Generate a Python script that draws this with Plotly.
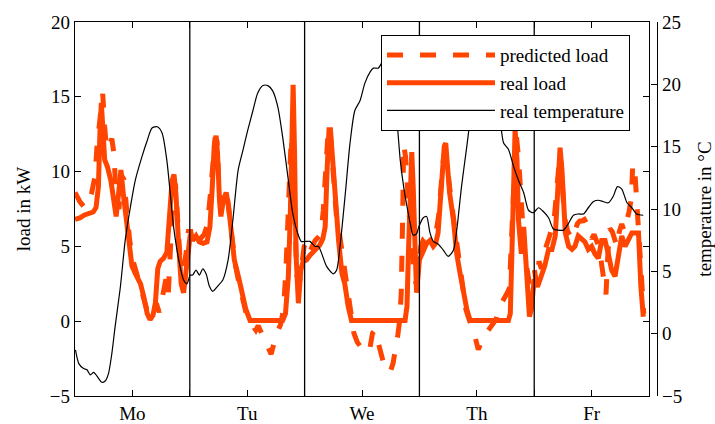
import plotly.graph_objects as go

# ---------------- data (hours since Monday 00:00) ----------------
day_labels = ["Mo", "Tu", "We", "Th", "Fr"]

real_hours = [0, 1, 2, 3, 3.8, 4.4, 4.9, 5.2, 5.5, 5.8, 6.2, 6.8, 7.5, 8.1, 8.6, 9.2, 9.6, 10.1, 10.6, 11.2,
              11.9, 12.6, 13.7, 14.4, 15.1, 15.7, 16.3, 16.8, 17.3, 17.8, 18.5, 19.2, 19.8, 20.3, 20.7, 21.1,
              21.6, 22.2, 22.7, 23.2, 23.7, 24.1,
              24.6, 25.3, 26.0, 26.8, 27.6, 28.2, 28.7, 29.1, 29.5, 29.8, 30.2, 30.5, 31.0, 31.6, 32.1, 32.6,
              33.3, 34.3, 35.0, 35.7, 36.6, 43.4, 44.0, 44.6, 45.0, 45.3, 45.6, 45.9, 46.2, 46.7, 47.2, 47.7,
              48.4, 49.1, 49.8, 50.5, 51.2, 51.8, 52.3, 52.7, 53.1, 53.4, 53.8, 54.4, 55.1, 55.8, 56.4, 57.1,
              57.8, 69.0, 69.4, 69.7, 70.0, 70.4, 70.7, 71.0, 71.4,
              72.0, 72.8, 73.5, 74.2, 74.9, 75.4, 75.9, 76.3, 76.8, 77.2, 77.5, 77.8, 78.3, 79.1, 79.8, 80.5,
              81.2, 81.9, 82.6, 90.6, 91.0, 91.3, 91.7, 92.0, 92.4, 92.7, 93.3, 93.8, 94.5, 95.0,
              95.4, 96.0, 96.7, 97.4, 98.2, 99.0, 99.7, 100.4, 100.7, 101.1, 101.4, 101.8, 102.1, 102.5, 103.2,
              103.9, 104.5, 105.2, 105.9, 106.6, 107.3, 108.0, 108.7, 109.4, 110.1, 110.8, 111.5, 112.2, 112.9,
              113.6, 114.3, 115.0, 115.7, 116.4, 117.1, 117.8, 118.3, 118.8]
real_kw = [6.8, 6.9, 7.1, 7.2, 7.3, 7.6, 9.0, 12.5, 14.6, 13.0, 10.8, 10.3, 9.4, 8.1, 7.0, 8.8, 10.1, 8.5, 7.2, 5.9,
           3.7, 3.2, 2.5, 1.6, 0.5, 0.1, 0.4, 1.2, 3.5, 4.0, 4.2, 4.6, 7.0, 9.4, 9.8, 8.5,
           5.5, 2.5, 1.9, 3.5, 5.0, 5.8,
           5.4, 5.7, 5.3, 5.2, 5.3, 6.3, 9.0, 11.7, 12.4, 11.2, 8.1, 7.0, 8.1, 8.6, 7.7, 5.9,
           4.1, 2.8, 1.6, 0.8, 0.05, 0.05, 0.5, 3.0, 7.0, 12.0, 15.8, 11.2, 4.5, 1.2, 3.4, 4.0,
           4.1, 4.4, 4.6, 4.9, 5.1, 5.5, 6.3, 10.1, 12.8, 12.8, 10.8, 7.7, 5.4, 3.2, 2.5, 1.0,
           0.05, 0.05, 1.0, 4.5, 9.0, 11.3, 9.0, 4.5, 1.9,
           4.1, 4.8, 5.2, 5.4, 5.0, 5.2, 5.9, 7.7, 10.1, 11.7, 11.9, 10.6, 8.6, 6.8, 4.5, 3.2,
           1.9, 0.8, 0.05, 0.05, 0.5, 3.4, 9.0, 12.8, 10.8, 6.8, 4.5, 6.3, 2.3, 0.3,
           0.8, 2.8, 2.3, 3.0, 3.7, 4.8, 4.8, 5.7, 7.7, 11.2, 11.6, 10.1, 7.7, 5.9, 5.0,
           4.8, 5.0, 5.7, 5.5, 5.3, 4.8, 5.0, 4.5, 4.2, 5.4, 5.4, 4.5, 3.4, 3.0,
           4.5, 5.7, 5.0, 5.4, 5.9, 5.9, 5.9, 2.3, 0.3]

pred_hours = [0, 1, 2, 3, 3.5, 4.2, 4.6, 5.3, 5.8, 6.2, 6.6, 7.2, 7.7, 8.1, 8.6, 9.2, 9.6, 10.2, 10.8, 11.4,
              12.0, 13.0, 14.0, 15.0, 15.6, 16.3, 17.0, 17.6, 18.2, 19.0, 19.5, 20.0, 20.5, 21.0, 21.5, 22.0,
              22.6, 23.2, 23.7, 24.2,
              24.5, 25.0, 25.6, 26.2, 27.0, 27.7, 28.3, 28.8, 29.3, 29.7, 30.1, 30.6, 31.2, 31.8, 32.3, 32.9,
              33.5, 34.3, 35.0, 35.8, 36.5, 37.2, 37.8, 38.3, 39.0, 39.8, 40.5, 41.0, 41.5, 42.2, 43.0, 43.6,
              44.1, 44.5, 44.9, 45.2, 45.6, 46.0, 46.4, 46.9, 47.4, 47.9,
              48.4, 49.0, 49.6, 50.2, 50.8, 51.4, 51.9, 52.4, 52.9, 53.3, 53.7, 54.2, 54.7, 55.3, 55.9, 56.5,
              57.0, 57.7, 58.3, 59.0, 59.7, 60.4, 61.0, 61.6, 62.2, 62.7, 63.2, 63.8, 64.5, 65.2, 65.9, 66.5,
              67.0, 67.5, 67.9, 68.2, 68.5, 68.7, 69.1, 69.5, 69.9, 70.3, 70.8, 71.3, 71.8,
              72.3, 72.9, 73.6, 74.2, 74.9, 75.5, 76.0, 76.5, 77.0, 77.4, 77.8, 78.3, 78.8, 79.4, 80.0, 80.6,
              81.2, 81.7, 82.3, 83.0, 83.6, 84.3, 84.9, 85.6, 86.4, 87.2, 88.0, 88.8, 89.5, 90.2, 90.8, 91.2,
              91.6, 92.0, 92.3, 92.7, 93.1, 93.5, 94.0, 94.5, 95.0, 95.5,
              96.0, 96.5, 97.0, 97.5, 98.0, 98.5, 99.0, 99.5, 100.0, 100.5, 101.0, 101.4, 101.8, 102.3, 103.0,
              104.0, 104.5, 105.0, 105.5, 106.0, 106.5, 107.0, 107.5, 108.0, 108.5, 109.0, 109.5, 110.0, 110.5,
              111.0, 111.4, 111.8, 112.3, 112.8, 113.3, 113.8, 114.3, 114.8, 115.3, 115.8, 116.3, 116.6, 117.0,
              117.4, 117.8, 118.2, 118.6, 118.9]
pred_kw = [8.6, 8.0, 7.6, 8.0, 8.6, 9.7, 11.7, 14.3, 15.2, 13.0, 11.5, 11.8, 12.2, 11.3, 8.5, 7.5, 9.8, 9.5, 7.0, 5.5,
           4.2, 3.0, 2.0, 0.8, 0.3, 0.6, 1.2, 0.6, 1.5, 2.8, 1.8, 5.5, 8.5, 9.2, 6.5, 4.0,
           3.5, 4.5, 6.0, 6.0,
           5.5, 6.2, 5.6, 5.5, 5.8, 6.5, 8.5, 10.8, 12.3, 12.0, 9.0, 7.5, 8.3, 8.4, 7.0, 5.2,
           3.8, 2.5, 1.5, 0.5, 0.0, -0.3, -0.6, -0.3, -0.8, -1.5, -2.0, -2.2, -1.6, -0.8, -0.2, 0.8,
           3.5, 7.5, 11.5, 12.3, 10.0, 6.0, 3.0, 2.5, 4.0, 5.0,
           5.3, 4.6, 5.0, 5.4, 5.6, 5.8, 7.4, 10.3, 12.6, 12.9, 11.0, 8.5, 6.8, 5.8, 4.5, 3.3,
           2.0, 0.3, -0.8, -1.4, -1.7, -2.0, -2.1, -1.9, -0.8, -0.6, -1.2, -2.1, -2.8, -3.3, -3.4, -2.8,
           -2.0, -0.9, 0.1, 1.9, 7.0, 11.8, 11.0, 8.5, 6.5, 5.0, 3.5, 2.5, 3.5,
           5.0, 5.5, 5.6, 5.7, 5.9, 6.0, 7.0, 8.9, 10.8, 11.2, 10.5, 9.0, 7.5, 6.2, 4.8, 3.5,
           2.2, 0.8, 0.2, -0.4, -1.0, -1.9, -1.4, -0.9, -0.6, -0.3, 0.1, 1.0, 1.5, 1.8, 2.2, 4.5,
           8.0, 11.5, 12.3, 11.0, 8.5, 6.0, 4.5, 3.5, 2.5, 3.0,
           3.5, 2.5, 4.0, 3.5, 4.5, 5.0, 5.5, 6.0, 6.2, 8.0, 10.5, 11.3, 9.5, 7.0, 6.0,
           5.5, 6.0, 6.5, 6.7, 6.7, 6.8, 6.5, 6.0, 5.5, 5.8, 5.4, 5.0, 4.0, 3.0,
           1.8, 4.5, 6.2, 6.0, 5.6, 5.0, 6.0, 6.5, 6.0, 6.6, 7.3, 8.2, 10.5, 10.2,
           8.0, 7.2, 4.0, 1.5, 0.5]

temp_hours = [0.1, 0.8, 1.8, 2.5, 3.2, 3.9, 4.6, 5.6, 6.3, 7.0, 7.7, 8.4, 9.5, 10.5, 11.6, 12.6, 14.0, 15.1, 16.1,
              17.2, 18.2, 19.2, 19.9, 20.6, 21.7, 22.7, 23.4, 24.1,
              24.6, 25.3, 26.0, 26.7, 27.4, 28.1, 28.8, 29.8, 30.9, 32.0, 33.0, 34.1, 35.1, 36.1, 37.2, 38.2,
              39.3, 40.3, 41.3, 42.4, 43.4, 44.5, 45.5, 46.6, 47.3, 48.3,
              49.1, 50.2, 50.9, 51.6, 52.6, 54.0, 54.7, 55.4, 56.5, 57.5, 58.5, 59.6, 60.6, 61.7, 62.4, 63.4,
              64.1, 64.9, 65.7, 66.5, 67.3, 68.0, 68.7, 69.4, 70.1, 70.7, 71.4,
              71.9, 72.8, 73.5, 74.2, 74.9, 75.9, 77.0, 78.0, 79.1, 79.8, 80.8, 81.9, 82.6, 83.6, 85.0, 86.5,
              88.0, 88.9, 89.6, 90.6, 91.7, 92.7, 93.8, 94.8, 95.8,
              96.9, 97.9, 99.0, 100.0, 101.0, 102.1, 103.1, 104.2, 105.2, 106.3, 107.3, 108.4, 109.4, 110.4,
              111.5, 112.5, 113.4, 114.3, 115.4, 116.4, 117.4, 118.8]
temp_c = [-1.3, -2.4, -2.8, -2.9, -3.3, -3.1, -3.4, -3.9, -3.8, -3.2, -1.6, 0.6, 3.8, 7.5, 10.2, 12.3, 14.2, 15.5, 16.5,
          16.6, 16.1, 13.9, 11.3, 8.6, 5.9, 4.3, 4.0, 4.7,
          4.7, 5.1, 4.7, 5.2, 4.8, 3.8, 3.4, 3.8, 4.3, 5.9, 9.1, 13.1, 14.7, 16.3, 17.9, 19.3,
          19.9, 19.9, 19.5, 18.2, 15.8, 12.6, 9.7, 8.0, 7.4, 7.4,
          7.4, 7.0, 7.0, 6.4, 5.4, 4.8, 5.1, 7.0, 11.2, 15.3, 17.9, 18.7, 20.1, 21.0, 21.3, 21.3,
          21.7, 22.0, 21.0, 19.5, 17.1, 13.9, 11.8, 10.2, 8.8, 7.9, 8.0,
          8.6, 9.3, 9.4, 8.1, 7.4, 7.2, 6.7, 6.2, 6.7, 8.3, 11.8, 15.0, 17.1, 19.5, 21.0, 21.2,
          19.5, 17.1, 15.3, 14.8, 13.4, 12.3, 11.3, 9.9, 9.7,
          10.1, 9.8, 9.3, 8.4, 8.3, 8.3, 8.8, 9.5, 9.6, 9.6, 10.1, 10.6, 10.7, 10.6,
          10.5, 11.0, 11.8, 11.6, 10.5, 10.1, 9.6, 9.5]

# ---------------- figure ----------------
ORANGE = "#FF4500"
FONT = "Liberation Serif"

fig = go.Figure()
fig.add_trace(go.Scatter(x=pred_hours, y=pred_kw, mode="lines", name="predicted load",
                         line=dict(color=ORANGE, width=5, dash="16px,17px")))
fig.add_trace(go.Scatter(x=real_hours, y=real_kw, mode="lines", name="real load",
                         line=dict(color=ORANGE, width=5)))
fig.add_trace(go.Scatter(x=temp_hours, y=temp_c, mode="lines", name="real temperature", yaxis="y2",
                         line=dict(color="black", width=1.2, shape="spline", smoothing=0.7)))

# day separators
for d in range(1, 5):
    fig.add_shape(type="line", xref="x", yref="paper", x0=24 * d, x1=24 * d, y0=0, y1=1,
                  line=dict(color="black", width=1.3), layer="above")

tickvals = [12 * i for i in range(11)]
ticktext = [day_labels[i // 2] if i % 2 == 1 else "" for i in range(11)]

fig.update_layout(
    width=715, height=424,
    margin=dict(l=75, r=58, t=22, b=28, autoexpand=False),
    paper_bgcolor="white", plot_bgcolor="white",
    font=dict(family=FONT, size=19, color="black"),
    showlegend=True,
    legend=dict(x=0.9536, y=0.965, xanchor="right", yanchor="top",
                bgcolor="white", bordercolor="black", borderwidth=1,
                font=dict(family=FONT, size=19), itemwidth=108, tracegroupgap=0),
    xaxis=dict(domain=[0, 0.9863], range=[0, 120], tickvals=tickvals, ticktext=ticktext,
               ticks="inside", ticklen=6, tickcolor="black", showline=True, linecolor="black",
               linewidth=1.3, mirror="ticks", showgrid=False, zeroline=False, automargin=False,
               tickfont=dict(family=FONT, size=19)),
    yaxis=dict(range=[-5, 20], dtick=5, ticks="inside", ticklen=6, tickcolor="black",
               showline=True, linecolor="black", linewidth=1.3, mirror="ticks",
               showgrid=False, zeroline=False, automargin=False,
               title=dict(text="load in kW", font=dict(family=FONT, size=19), standoff=14),
               tickfont=dict(family=FONT, size=19)),
    yaxis2=dict(range=[-5, 25], dtick=5, overlaying="y", side="right", anchor="free", position=1.0,
                ticks="inside", ticklen=6, tickcolor="black", showline=True, linecolor="black",
                linewidth=1.3, showgrid=False, zeroline=False, automargin=False,
                title=dict(text="temperature in °C", font=dict(family=FONT, size=19), standoff=20),
                tickfont=dict(family=FONT, size=19)),
)

fig.write_html("out.html")
